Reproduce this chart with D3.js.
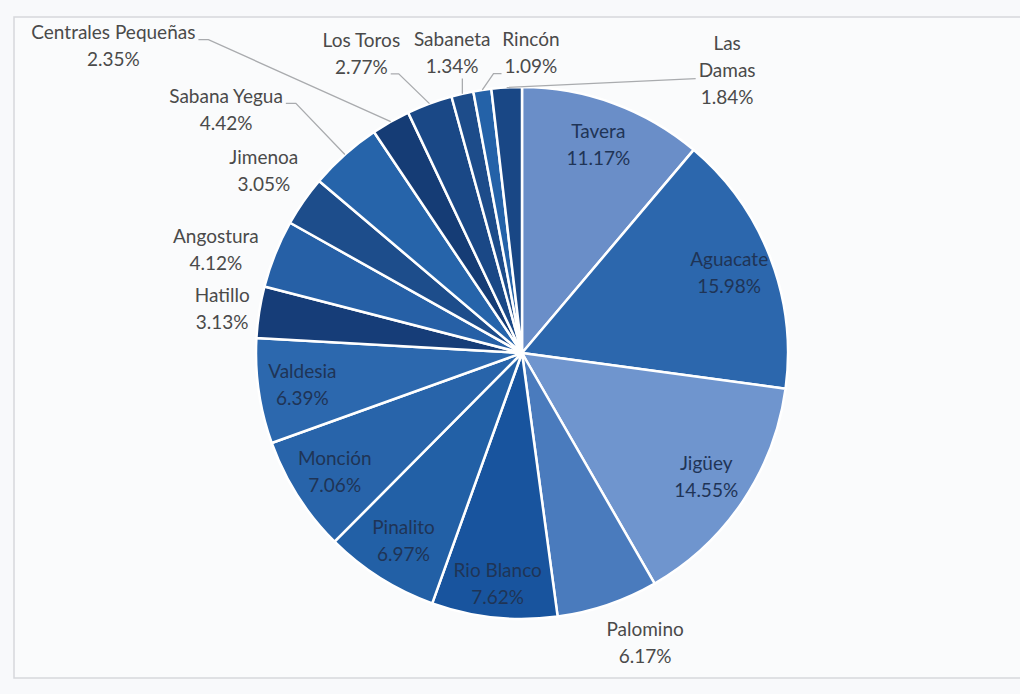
<!DOCTYPE html>
<html><head><meta charset="utf-8">
<script src="https://cdn.jsdelivr.net/npm/d3@7"></script>
<style>body{margin:0;background:#f8f9fb;} svg{display:block;}</style>
</head><body>
<svg id="chart" width="1020" height="694"></svg>
<script>
// ---- data ----
const categories = ["Tavera","Aguacate","Jigüey","Palomino","Rio Blanco","Pinalito","Monción","Valdesia","Hatillo","Angostura","Jimenoa","Sabana Yegua","Centrales Pequeñas","Los Toros","Sabaneta","Rincón","Las Damas"];
const values = [11.17,15.98,14.55,6.17,7.62,6.97,7.06,6.39,3.13,4.12,3.05,4.42,2.35,2.77,1.34,1.09,1.84];
const labelText = ["11.17%","15.98%","14.55%","6.17%","7.62%","6.97%","7.06%","6.39%","3.13%","4.12%","3.05%","4.42%","2.35%","2.77%","1.34%","1.09%","1.84%"];
const colors = ["#6a8ec8","#2c67ad","#6f95ce","#4a7bbd","#18549e","#2260a6","#2864aa","#2c68ae","#163d78","#2660a6","#1d4d8b","#2664aa","#153c75","#1a4886","#1d4c8a","#2462a8","#194785"];

// ---- layout ----
const cx = 522, cy = 353, R = 266;
// outside label placement (polar: angle deg clockwise from top, distance px)
const outside = {
  "Palomino":[157,315], "Hatillo":[278.3,303], "Angostura":[288.6,323], "Jimenoa":[305.2,316],
  "Sabana Yegua":[309.4,383], "Centrales Pequeñas":[306.9,511], "Los Toros":[331.8,340],
  "Sabaneta":[346.9,308], "Rincón":[1.7,300], "Las Damas":[36,349]
};
const nameLines = {"Las Damas":["Las","Damas"]};
const leaders = ["Sabana Yegua","Centrales Pequeñas","Los Toros","Sabaneta","Rincón","Las Damas"];

const svg = d3.select("#chart");
svg.append("rect").attr("x",14).attr("y",17).attr("width",1030).attr("height",661)
  .attr("fill","#fafbfc").attr("stroke","#d6d8dc").attr("stroke-width",1.5);

const data = categories.map((c,i)=>({name:c, value:values[i], label:labelText[i], color:colors[i]}));
const pie = d3.pie().value(d=>d.value).sort(null);
const arcs = pie(data);
const arc = d3.arc().innerRadius(0).outerRadius(R);
const g = svg.append("g").attr("transform",`translate(${cx},${cy})`);

g.selectAll("path.slice").data(arcs).join("path").attr("class","slice")
  .attr("d",arc).attr("fill",d=>d.data.color)
  .attr("stroke","#ffffff").attr("stroke-width",2.5).attr("stroke-linejoin","round");

const polar = (a,r)=>[r*Math.sin(a*Math.PI/180), -r*Math.cos(a*Math.PI/180)];
const font = "Lato, 'Open Sans', sans-serif";
const LH = 27, FS = 19;
const leaderG = g.append("g");
const info = {};

// labels
arcs.forEach(d=>{
  const n = d.data.name;
  let x,y,fill;
  if(outside[n]){
    [x,y] = polar(outside[n][0], outside[n][1]);
    fill = "#4a4a4a";
  } else {
    const mid = (d.startAngle+d.endAngle)/2*180/Math.PI;
    [x,y] = polar(mid, n==="Rio Blanco"?232:222);
    fill = "#1f3456";
  }
  const lines = (nameLines[n]||[n]).concat([d.data.label]);
  const t = g.append("text").attr("text-anchor","middle")
    .attr("font-family",font).attr("font-size",FS).attr("fill",fill);
  const y0 = y - (lines.length-1)*LH/2;
  const ws = [];
  lines.forEach((s,i)=>{
    const sp = t.append("tspan").attr("x",x).attr("y",y0+i*LH).attr("dy","0.35em").text(s);
    ws.push(sp.node().getComputedTextLength());
  });
  info[n] = {x, y0, ws};
});

// leader lines
arcs.forEach(d=>{
  const n = d.data.name;
  if(!leaders.includes(n)) return;
  const mid = (d.startAngle+d.endAngle)/2*180/Math.PI;
  const [ex,ey] = polar(mid, R);
  const I = info[n];
  let pts;
  if(n==="Sabaneta"){
    pts = [[ex, I.y0+LH+12],[ex,ey]];
  } else if(n==="Rincón"){
    const lx = I.x - I.ws[1]/2 - 3, ly = I.y0+LH+7;
    pts = [[lx, ly],[lx-8, ly],[ex,ey]];
  } else if(n==="Las Damas"){
    const lx = I.x - I.ws[1]/2 - 3, ly = I.y0+LH+8;
    pts = [[lx, ly],[ex,ey]];
  } else if(n==="Los Toros"){
    const lx = I.x + I.ws[1]/2 + 3, ly = I.y0+LH+7;
    pts = [[lx, ly],[lx+8, ly],[ex,ey]];
  } else {
    const lx = I.x + I.ws[0]/2 + 3, ly = I.y0+7;
    pts = [[lx, ly],[lx+10, ly],[ex,ey]];
  }
  leaderG.append("path").attr("d",d3.line()(pts)).attr("fill","none")
    .attr("stroke","#a9abae").attr("stroke-width",1.3);
});
</script>
</body></html>
